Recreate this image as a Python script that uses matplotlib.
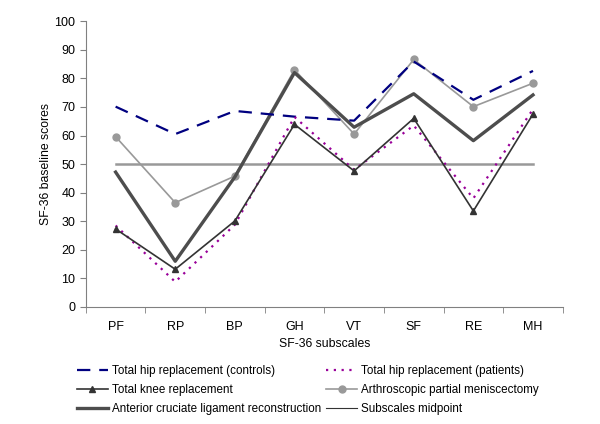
import matplotlib
matplotlib.use("Agg")
import matplotlib.pyplot as plt
from matplotlib.lines import Line2D

plt.rcParams['font.family'] = ['Liberation Sans', 'DejaVu Sans']

categories = ["PF", "RP", "BP", "GH", "VT", "SF", "RE", "MH"]
thr_controls = [70.1, 60.5, 68.6, 66.6, 65.2, 85.9, 72.5, 82.6]
thr_patients = [28.5, 8.8, 28.8, 66.5, 48.0, 63.5, 38.0, 69.2]
tkr = [27.3, 13.2, 30.1, 63.9, 47.6, 66.0, 33.6, 67.5]
apm = [59.6, 36.5, 45.8, 83.0, 60.5, 86.6, 70.1, 78.3]
aclr = [47.2, 16.0, 45.5, 82.0, 62.9, 74.6, 58.2, 74.2]
midpoint = [50] * 8

fig = plt.figure(figsize=(6, 4.24), dpi=100)
ax = fig.add_axes([0.143, 0.276, 0.795, 0.674])
x = list(range(len(categories)))

ax.plot(x, midpoint, color="#999999", lw=1.8, zorder=1)
ax.plot(x, thr_controls, color="#000080", lw=1.6, dashes=(6, 4), zorder=3)
ax.plot(x, thr_patients, color="#990099", lw=1.6, dashes=(1, 2.5), zorder=3)
ax.plot(x, tkr, color="#333333", lw=1.2, marker="^", ms=5, zorder=4)
ax.plot(x, apm, color="#999999", lw=1.2, marker="o", ms=5, zorder=2)
ax.plot(x, aclr, color="#4d4d4d", lw=2.4, zorder=2)

ax.set_xlim(-0.5, 7.5)
ax.set_ylim(0, 100)
ax.set_yticks(range(0, 101, 10))
ax.set_xticks(x)
ax.set_xticklabels(categories)
ax.set_xticks([i - 0.5 for i in range(len(categories) + 1)], minor=True)
ax.tick_params(axis="x", which="major", length=0, labelsize=9, pad=10)
ax.tick_params(axis="x", which="minor", length=4, color="#808080", direction="out")
ax.tick_params(axis="y", length=4, color="#808080", labelsize=9)
for s in ["top", "right"]:
    ax.spines[s].set_visible(False)
for s in ["left", "bottom"]:
    ax.spines[s].set_color("#808080")

ax.set_xlabel("SF-36 subscales", fontsize=8.8, labelpad=4)
ax.set_ylabel("SF-36 baseline scores", fontsize=8.8, labelpad=2)

handles = [
    Line2D([], [], color="#000080", lw=1.6, dashes=(6, 4)),
    Line2D([], [], color="#333333", lw=1.2, marker="^", ms=5),
    Line2D([], [], color="#4d4d4d", lw=2.4),
    Line2D([], [], color="#990099", lw=1.6, dashes=(1, 2.5)),
    Line2D([], [], color="#999999", lw=1.2, marker="o", ms=5),
    Line2D([], [], color="#333333", lw=0.8),
]
labels = [
    "Total hip replacement (controls)",
    "Total knee replacement",
    "Anterior cruciate ligament reconstruction",
    "Total hip replacement (patients)",
    "Arthroscopic partial meniscectomy",
    "Subscales midpoint",
]
fig.legend(handles, labels, ncol=2, loc="upper left", bbox_to_anchor=(0.128, 0.138),
           frameon=False, fontsize=8.4, handlelength=2.66, handletextpad=0.35,
           columnspacing=0.43, labelspacing=0.6, borderpad=0, borderaxespad=0)

fig.savefig("out.png", dpi=100)
